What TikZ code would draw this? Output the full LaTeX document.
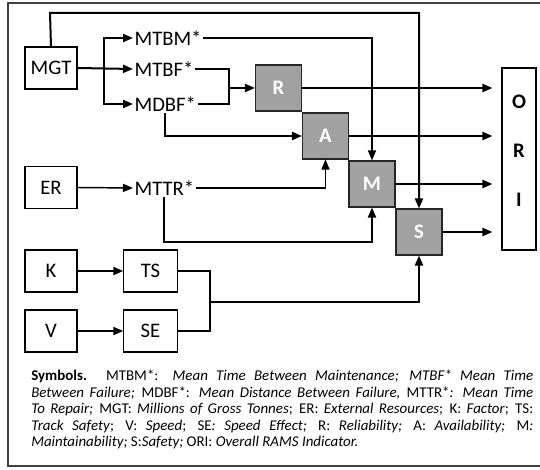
\documentclass[tikz,border=0pt]{standalone}
\usepackage{fontspec}
\setmainfont{Carlito}
\usepackage{tikz}
\usetikzlibrary{arrows.meta, positioning, calc}
\tikzstyle{arrow} = [line width=1.5pt,-{Triangle[length=7.5pt,width=6pt]}]
\tikzstyle{link} = [line width=1pt]
\tikzstyle{inbox} = [rectangle, draw=black, line width=0.8pt, minimum width=39pt, minimum height=31.5pt, inner sep=0pt, font=\fontsize{15.5}{18}\selectfont]
\tikzstyle{ramsbox} = [rectangle, draw=black!85, line width=0.8pt, fill=black!37, minimum size=34.5pt, inner sep=0pt, text=white, font=\fontsize{15.5}{18}\selectfont\bfseries]
\tikzstyle{metric} = [inner xsep=1pt, inner ysep=1pt, anchor=west, font=\fontsize{15.5}{18}\selectfont]

\begin{document}
\begin{tikzpicture}[x=0.75pt, y=-0.75pt]
    \useasboundingbox (0,0) rectangle (540,470);
    \clip (0,0) rectangle (540,470);
    % Frame
    \draw[draw=black!75, line width=1.2pt] (8,3) rectangle (560,466);

    % Inputs
    \node[inbox] (mgt) at (51,68) {MGT};
    \node[inbox] (er) at (51,187.5) {ER};
    \node[inbox] (k) at (51,271) {K};
    \node[inbox] (v) at (51,331) {V};
    \node[inbox, minimum width=40pt] (ts) at (150.5,271) {TS};
    \node[inbox, minimum width=40pt] (se) at (150.5,331) {SE};

    % Metrics
    \node[metric] (mtbm) at (133,38) {MTBM*};
    \node[metric] (mtbf) at (133,69) {MTBF*};
    \node[metric] (mdbf) at (133,104) {MDBF*};
    \node[metric] (mttr) at (133,188) {MTTR*};

    % RAMS
    \node[ramsbox] (r) at (278.5,88) {R};
    \node[ramsbox] (a) at (325.5,136) {A};
    \node[ramsbox] (m) at (372,184) {M};
    \node[ramsbox] (s) at (419,232) {S};

    % Indicator
    \node[rectangle, draw=black, line width=0.8pt, minimum width=25.5pt, minimum height=136.5pt] (ori) at (519,159) {};
    \node[align=center, font=\fontsize{15.5}{36.75}\selectfont\bfseries] (oritxt) at (519,151) {O\\R\\I};

    % Junctions
    \coordinate (br) at (104,69);
    \coordinate (top) at (50,13);
    \coordinate (jr) at (229,88);
    \coordinate (mlow) at (372,242);
    \coordinate (js) at (210,302);

    % MGT branches
    \draw[arrow] (mgt.east) -- (mtbf.west);
    \draw[arrow] (br) |- (mtbm.west);
    \draw[arrow] (br) |- (mdbf.west);
    \draw[arrow] (mgt.north) -- (top) -| (s.north);
    \draw[arrow, line width=1.1pt] (er.east) -- (mttr.west);
    \draw[arrow] (k.east) -- (ts.west);
    \draw[arrow] (v.east) -- (se.west);

    % Reliability
    \draw[link] (mtbf.east) -| (jr) |- (mdbf.east);
    \draw[arrow] (jr) -- (r.west);
    % Availability
    \draw[arrow] (mdbf.south) |- (a.west);
    \draw[arrow, line width=1.1pt] (mttr.east) -| (a.south);
    % Maintainability
    \draw[arrow, line width=1.1pt] (mtbm.east) -| (m.north);
    \draw[arrow] (mttr.south) |- (mlow) -- (m.south);
    % Safety
    \draw[link] (ts.east) -| (js) |- (se.east);
    \draw[arrow] (js) -| (s.south);

    % Outputs
    \foreach \n in {r,a,m,s}
        \draw[arrow, shorten >=6.75pt] (\n.east) -- (\n.east -| ori.west);

    % Caption
    \node[anchor=north west, inner sep=0pt, text width=376.5pt, align=justify, font=\fontsize{11.2}{12.4}\selectfont] (cap) at (31,370)
        {\textbf{Symbols.} MTBM*: \textit{Mean Time Between Maintenance; MTBF* Mean Time}\linebreak
        \textit{Between Failure;} MDBF*: \textit{Mean Distance Between Failure,} MTTR*\textit{: Mean Time}\linebreak
        \textit{To Repair;} MGT: \textit{Millions of Gross Tonnes}; ER: \textit{External Resources}; K: \textit{Factor}; TS:\linebreak
        \textit{Track Safety}; V: \textit{Speed}; SE\textit{: Speed Effect;} R: \textit{Reliability;} A: \textit{Availability;} M\textit{:}\linebreak
        \textit{Maintainability;} S:\textit{Safety;} ORI: \textit{Overall RAMS Indicator.}\par};
\end{tikzpicture}
\end{document}
